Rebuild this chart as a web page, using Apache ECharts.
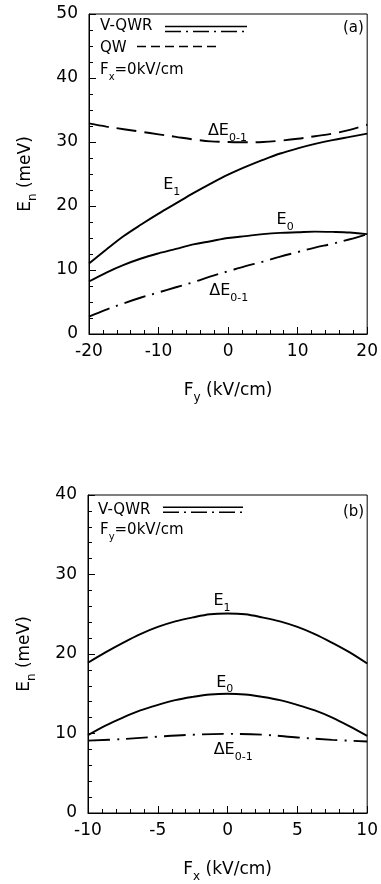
<!DOCTYPE html>
<html>
<head>
<meta charset="utf-8">
<script src="https://cdn.jsdelivr.net/npm/echarts@6/dist/echarts.min.js"></script>
<style>
html,body{margin:0;padding:0;background:#fff;}
#c{width:381px;height:884px;}
</style>
</head>
<body>
<div id="c"></div>
<script>
// ---------- data ----------
// panel (a): energies versus F_y (kV/cm), F_x = 0
const fyA      = [-20, -17.5, -15, -12.5, -10, -7.5, -5, -2.5, 0, 2.5, 5, 7.5, 10, 12.5, 15, 17.5, 20];
const qwDeltaA = [32.9, 32.4, 32.0, 31.6, 31.2, 30.8, 30.4, 30.1, 30.0, 29.95, 30.0, 30.2, 30.5, 30.9, 31.3, 31.9, 32.7];
const e1A      = [11.0, 13.2, 15.3, 17.1, 18.8, 20.4, 22.0, 23.5, 24.9, 26.1, 27.2, 28.2, 29.0, 29.7, 30.3, 30.8, 31.3];
const e0A      = [8.2, 9.6, 10.8, 11.8, 12.6, 13.3, 14.0, 14.5, 15.0, 15.3, 15.6, 15.8, 15.9, 16.0, 15.95, 15.85, 15.6];
const deltaA   = [2.7, 3.8, 4.8, 5.7, 6.5, 7.3, 8.1, 9.0, 9.8, 10.6, 11.3, 12.1, 12.8, 13.5, 14.1, 14.8, 15.6];
const xTicksA  = [-20, -10, 0, 10, 20];
const yTicksA  = [0, 10, 20, 30, 40, 50];

// panel (b): energies versus F_x (kV/cm), F_y = 0
const fxB      = [-10, -8.75, -7.5, -6.25, -5, -3.75, -2.5, -1.25, 0, 1.25, 2.5, 3.75, 5, 6.25, 7.5, 8.75, 10];
const e1B      = [18.9, 20.2, 21.4, 22.5, 23.4, 24.1, 24.6, 25.0, 25.1, 25.0, 24.6, 24.1, 23.4, 22.5, 21.4, 20.2, 18.8];
const e0B      = [9.8, 11.0, 12.0, 12.9, 13.6, 14.2, 14.6, 14.9, 15.0, 14.9, 14.6, 14.2, 13.6, 12.9, 12.0, 10.9, 9.7];
const fxBd     = [-10, -7.5, -5, -2.5, 0, 2.5, 5, 7.5, 10];
const deltaB   = [9.1, 9.3, 9.6, 9.85, 9.95, 9.85, 9.5, 9.2, 9.0];
const xTicksB  = [-10, -5, 0, 5, 10];
const yTicksB  = [0, 10, 20, 30, 40];

// ---------- helpers ----------
const FONT = 'DejaVu Sans';
const zip = (xs, ys) => xs.map((x, i) => [x, ys[i]]);
const richSub = (m, s) => ({
  m: {fontSize: m, fontFamily: FONT, color: '#000'},
  s: {fontSize: s, fontFamily: FONT, color: '#000', padding: [Math.round(m * 0.85), 0, 0, 0]}
});
const DASH = [20, 8];
const DASHDOT = [22, 7, 2, 7];

function xAxisCfg(grid, ticks, name, gap) {
  return {
    gridIndex: grid, type: 'value',
    min: ticks[0], max: ticks[ticks.length - 1], interval: ticks[1] - ticks[0],
    axisLine: {onZero: false, lineStyle: {color: '#000', width: 1}},
    axisTick: {inside: true, length: 7, lineStyle: {color: '#000', width: 1}},
    minorTick: {show: true, splitNumber: 5, length: 4, lineStyle: {color: '#000', width: 1}},
    splitLine: {show: false},
    axisLabel: {color: '#000', fontSize: 17, fontFamily: FONT, margin: 9},
    name: name, nameLocation: 'middle', nameGap: gap,
    nameTextStyle: {rich: richSub(17, 12)}
  };
}
function yAxisCfg(grid, ticks, minorSplit) {
  return {
    gridIndex: grid, type: 'value',
    min: ticks[0], max: ticks[ticks.length - 1], interval: ticks[1] - ticks[0],
    axisLine: {onZero: false, lineStyle: {color: '#000', width: 1}},
    axisTick: {inside: true, length: 7, lineStyle: {color: '#000', width: 1}},
    minorTick: {show: true, splitNumber: minorSplit, length: 4, lineStyle: {color: '#000', width: 1}},
    splitLine: {show: false},
    axisLabel: {color: '#000', fontSize: 17, fontFamily: FONT, margin: 11},
    name: '{m|E}{s|n}{m| (meV)}', nameLocation: 'middle', nameGap: 50, nameRotate: 90,
    nameTextStyle: {rich: richSub(17, 12)}
  };
}
function lineSeries(gi, data, dash, labels) {
  const s = {
    type: 'line', xAxisIndex: gi, yAxisIndex: gi, data: data,
    smooth: 0.35, showSymbol: false, symbol: 'none', silent: true,
    lineStyle: {color: '#000', width: 1.9, type: dash}
  };
  if (labels) {
    s.markPoint = {
      symbol: 'circle', symbolSize: 0, silent: true,
      label: {show: true, position: 'inside', color: '#000', rich: richSub(16, 11)},
      data: labels.map(l => ({coord: l.at, label: {formatter: l.text}}))
    };
  }
  return s;
}
function txt(left, top, text, size, align) {
  return {
    type: 'text', left: left, top: top, silent: true,
    style: {text: text, rich: richSub(size, 10), fill: '#000', align: align || 'left'}
  };
}
function seg(x1, y1, x2, y2, dash) {
  return {
    type: 'line', silent: true,
    shape: {x1: x1, y1: y1, x2: x2, y2: y2},
    style: {stroke: '#000', lineWidth: 1.5, lineDash: dash || null}
  };
}

const chart = echarts.init(document.getElementById('c'), null, {renderer: 'canvas'});
const option = {
  animation: false,
  backgroundColor: '#fff',
  grid: [
    {left: 89, top: 14, width: 279, height: 320, show: true, borderColor: '#000', borderWidth: 1, backgroundColor: 'transparent'},
    {left: 88, top: 495, width: 280, height: 318, show: true, borderColor: '#000', borderWidth: 1, backgroundColor: 'transparent'}
  ],
  xAxis: [
    xAxisCfg(0, xTicksA, '{m|F}{s|y}{m| (kV/cm)}', 44),
    xAxisCfg(1, xTicksB, '{m|F}{s|x}{m| (kV/cm)}', 44)
  ],
  yAxis: [
    yAxisCfg(0, yTicksA, 4),
    yAxisCfg(1, yTicksB, 5)
  ],
  series: [
    lineSeries(0, zip(fyA, qwDeltaA), DASH, [{at: [-0.1, 31.7], text: '{m|ΔE}{s|0-1}'}]),
    lineSeries(0, zip(fyA, e1A), 'solid', [{at: [-8.1, 23.3], text: '{m|E}{s|1}'}]),
    lineSeries(0, zip(fyA, e0A), 'solid', [{at: [8.2, 17.8], text: '{m|E}{s|0}'}]),
    lineSeries(0, zip(fyA, deltaA), DASHDOT, [{at: [0.1, 6.7], text: '{m|ΔE}{s|0-1}'}]),
    lineSeries(1, zip(fxB, e1B), 'solid', [{at: [-0.4, 26.7], text: '{m|E}{s|1}'}]),
    lineSeries(1, zip(fxB, e0B), 'solid', [{at: [-0.2, 16.4], text: '{m|E}{s|0}'}]),
    lineSeries(1, zip(fxBd, deltaB), DASHDOT, [{at: [0.4, 7.9], text: '{m|ΔE}{s|0-1}'}])
  ],
  graphic: [
    // panel (a) legend
    txt(100, 19, '{m|V-QWR}', 15),
    seg(165, 26.5, 247, 26.5),
    seg(165, 31.5, 245, 31.5, [16, 5, 2, 5]),
    txt(100, 41, '{m|QW}', 15),
    seg(137, 46.5, 220, 46.5, [9, 5]),
    txt(100, 63, '{m|F}{s|x}{m|=0kV/cm}', 15),
    txt(343, 21, '{m|(a)}', 15),
    // panel (b) legend
    txt(98, 503, '{m|V-QWR}', 15),
    seg(163, 507.3, 243, 507.3),
    seg(163, 512.3, 243, 512.3, [16, 5, 2, 5]),
    txt(100, 523, '{m|F}{s|y}{m|=0kV/cm}', 15),
    txt(343, 505, '{m|(b)}', 15)
  ]
};
chart.setOption(option);
</script>
</body>
</html>
